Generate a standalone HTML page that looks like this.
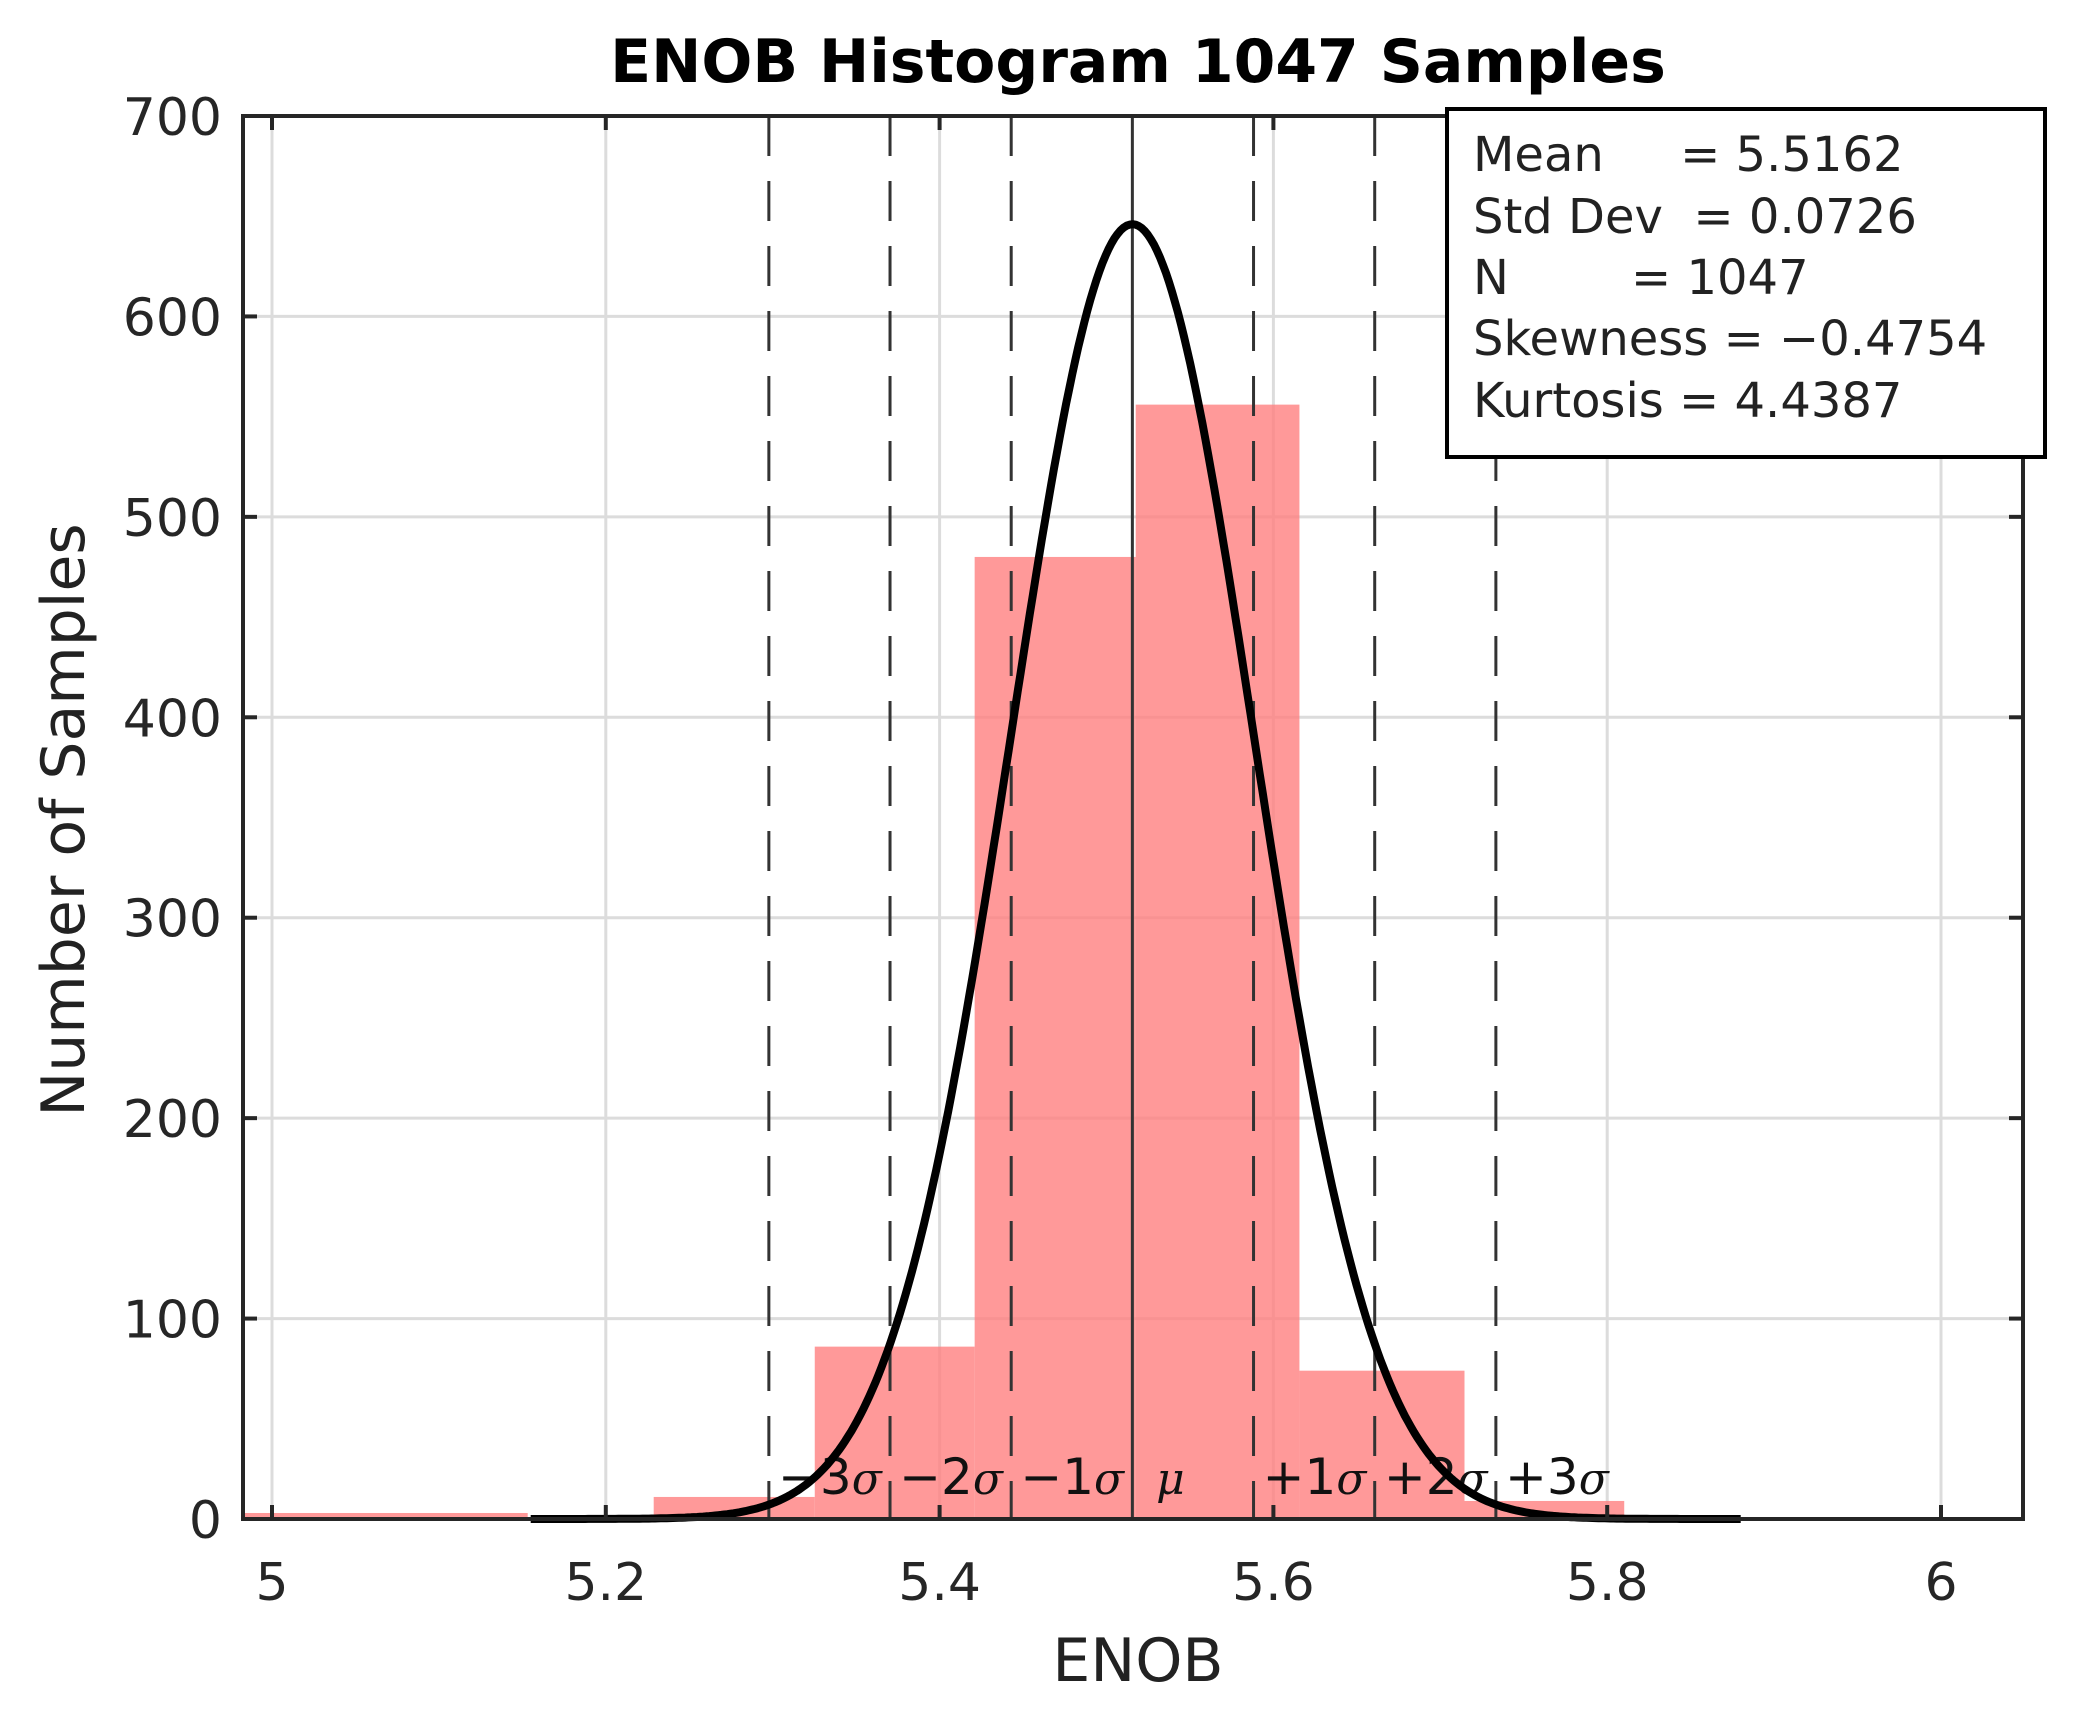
<!DOCTYPE html>
<html><head><meta charset="utf-8"><style>
html,body{margin:0;padding:0;background:#fff;}
svg{display:block;font-family:"DejaVu Sans","Liberation Sans",sans-serif;}
</style></head><body>
<svg id="chart" width="2077" height="1710" viewBox="0 0 2077 1710">
<rect x="0" y="0" width="2077" height="1710" fill="#fff"/>
<g id="grid"></g>
<g id="bars"></g>
<g id="sigmas"></g>
<g id="curve"></g>
<g id="axes"></g>
<text x="1138" y="82" text-anchor="middle" font-size="60" font-weight="bold" fill="#000">ENOB Histogram 1047 Samples</text>
<text x="0" y="0" transform="translate(84,820) rotate(-90)" text-anchor="middle" font-size="60" fill="#222">Number of Samples</text>
<text x="1138" y="1681" text-anchor="middle" font-size="60" fill="#222">ENOB</text>
<g>
<rect x="1447" y="109" width="598" height="348" fill="#fff" stroke="#000" stroke-width="4"/>
<text font-size="48" fill="#222" xml:space="preserve">
<tspan x="1473" y="171">Mean     = 5.5162</tspan>
<tspan x="1473" y="233">Std Dev  = 0.0726</tspan>
<tspan x="1473" y="294">N        = 1047</tspan>
<tspan x="1473" y="355">Skewness = −0.4754</tspan>
<tspan x="1473" y="417">Kurtosis = 4.4387</tspan>
</text>
</g>
</svg>
<script>
const binEdges = [4.982, 5.1532, 5.2287, 5.3252, 5.4210, 5.5175, 5.6156, 5.7145, 5.8102];
const binCounts = [3, 0, 11, 86, 480, 556, 74, 9];
const xTicks = [5, 5.2, 5.4, 5.6, 5.8, 6];
const xTickLabels = ["5", "5.2", "5.4", "5.6", "5.8", "6"];
const yTicks = [0, 100, 200, 300, 400, 500, 600, 700];
const yTickLabels = ["0", "100", "200", "300", "400", "500", "600", "700"];
const fitMean = [5.5155];
const fitStd = [0.0726];
const fitPeak = [646];
const sigmaMultiples = [-3, -2, -1, 0, 1, 2, 3];
const sigmaPrefix = ["−3", "−2", "−1", "", "+1", "+2", "+3"];
const sigmaSymbol = ["σ", "σ", "σ", "μ", "σ", "σ", "σ"];

const NS = "http://www.w3.org/2000/svg";
const L = 243, R = 2023, T = 116, B = 1519;
const xs = v => 272 + (v - 5) * 1669;
const ys = v => B - v * (B - T) / 700;
function mk(tag, attrs, parent) {
  const e = document.createElementNS(NS, tag);
  for (const k in attrs) e.setAttribute(k, attrs[k]);
  parent.appendChild(e);
  return e;
}
const grid = document.getElementById('grid');
xTicks.forEach(v => {
  const g = mk('line', {x1: xs(v), x2: xs(v), y1: T, y2: B, stroke: '#dcdcdc', 'stroke-width': 3}, grid);
  
  
});
yTicks.forEach(v => {
  const g = mk('line', {x1: L, x2: R, y1: ys(v), y2: ys(v), stroke: '#dcdcdc', 'stroke-width': 3}, grid);
  
  
});
const bars = document.getElementById('bars');
binCounts.forEach((c, i) => {
  if (c <= 0) return;
  const x0 = Math.max(L, xs(binEdges[i])), x1 = xs(binEdges[i + 1]);
  const r = mk('rect', {x: x0, y: ys(c), width: x1 - x0, height: B - ys(c), fill: '#ff8080', 'fill-opacity': 0.8}, bars);
  
  
});
const sig = document.getElementById('sigmas');
sigmaMultiples.forEach((k, i) => {
  const xv = xs(fitMean[0] + k * fitStd[0]);
  const ln = mk('line', {x1: xv, x2: xv, y1: T, y2: B, stroke: '#333', 'stroke-width': 3}, sig);
  if (k !== 0) ln.setAttribute('stroke-dasharray', '40 25');
  
  
  const lx = k === 0 ? xv + 38 : xv + 61;
  const t = mk('text', {x: lx, y: 1494, 'text-anchor': 'middle', 'font-size': 50, fill: '#111'}, sig);
  
  
  const a = mk('tspan', {}, t);
  a.textContent = sigmaPrefix[i];
  const b = mk('tspan', {'font-family': '"DejaVu Serif","Liberation Serif",serif', 'font-style': 'italic', 'font-size': 44}, t);
  b.textContent = sigmaSymbol[i];
});
const curve = document.getElementById('curve');
let d = '';
const xa = 5.155, xb = 5.88;
for (let j = 0; j <= 400; j++) {
  const v = xa + (xb - xa) * j / 400;
  const y = fitPeak[0] * Math.exp(-0.5 * Math.pow((v - fitMean[0]) / fitStd[0], 2));
  d += (j ? 'L' : 'M') + xs(v).toFixed(1) + ' ' + ys(y).toFixed(1);
}
const p = mk('path', {d: d, fill: 'none', stroke: '#000', 'stroke-width': 8, 'stroke-linejoin': 'round'}, curve);


const axes = document.getElementById('axes');
const fr = mk('rect', {x: L, y: T, width: R - L, height: B - T, fill: 'none', stroke: '#262626', 'stroke-width': 4}, axes);


xTicks.forEach((v, i) => {
  const a = mk('line', {x1: xs(v), x2: xs(v), y1: B, y2: B - 14, stroke: '#262626', 'stroke-width': 4}, axes);
  
  
  const b = mk('line', {x1: xs(v), x2: xs(v), y1: T, y2: T + 14, stroke: '#262626', 'stroke-width': 4}, axes);
  
  
  const t = mk('text', {x: xs(v), y: 1600, 'text-anchor': 'middle', 'font-size': 52, fill: '#262626'}, axes);
  t.textContent = xTickLabels[i];
  
  
});
yTicks.forEach((v, i) => {
  const a = mk('line', {x1: L, x2: L + 14, y1: ys(v), y2: ys(v), stroke: '#262626', 'stroke-width': 4}, axes);
  
  
  const b = mk('line', {x1: R, x2: R - 14, y1: ys(v), y2: ys(v), stroke: '#262626', 'stroke-width': 4}, axes);
  
  
  const t = mk('text', {x: 222, y: ys(v) + 19, 'text-anchor': 'end', 'font-size': 52, fill: '#262626'}, axes);
  t.textContent = yTickLabels[i];
  
  
});
</script>
</body></html>
